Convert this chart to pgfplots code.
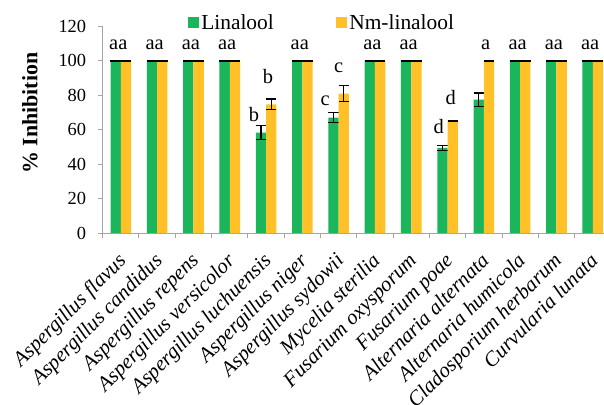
\documentclass[border=0pt]{standalone}
\usepackage{pgfplots}
\pgfplotsset{compat=1.18}
\usepackage{pgfplotstable}
\usepackage{fontspec}
\setmainfont{Liberation Serif}

\definecolor{lingreen}{RGB}{27,181,92}
\definecolor{nmgold}{RGB}{255,193,39}
\definecolor{axgray}{RGB}{165,165,165}

% mean inhibition (%) and error for each fungus
\pgfplotstableread{
x lin linerr nm nmerr
1  100  0    100  0
2  100  0    100  0
3  100  0    100  0
4  100  0    100  0
5  58.3 4.0  74.7 3.1
6  100  0    100  0
7  67.1 2.9  81.0 4.6
8  100  0    100  0
9  100  0    100  0
10 49.5 1.5  65.0 0
11 77.5 3.8  100  0
12 100  0    100  0
13 100  0    100  0
14 100  0    100  0
}\inhib

\pgfplotsset{sqleg/.style={legend image code/.code={\fill[##1] (0bp,-5.5bp) rectangle (10.5bp,5.5bp);}}}

\begin{document}
\begin{tikzpicture}
\begin{axis}[
  scale only axis, width=508.2bp, height=206.5bp,
  xmin=0.5, xmax=14.5, ymin=0, ymax=120,
  ybar=0pt, bar width=10.3bp,
  axis lines*=left,
  axis line style={axgray, line width=1bp, -},
  tick align=outside, major tick length=5bp,
  tick style={axgray, line width=1bp},
  ytick={0,20,...,120},
  yticklabel style={font=\fontsize{18.5}{20}\selectfont, xshift=-8bp},
  /pgf/number format/assume math mode=true,
  xtick={0.5,1.5,...,14.5},
  x tick label as interval,
  xticklabels={Aspergillus flavus, Aspergillus candidus, Aspergillus repens,
    Aspergillus versicolor, Aspergillus luchuensis, Aspergillus niger,
    Aspergillus sydowii, Mycelia sterilia, Fusarium oxysporum, Fusarium poae,
    Alternaria alternata, Alternaria humicola, Cladosporium herbarum,
    Curvularia lunata},
  xticklabel style={font=\fontsize{21}{23}\selectfont\itshape, xshift=7bp, yshift=-23bp, rotate=45, anchor=base east, inner sep=1bp},
  ylabel={\% Inhibition},
  ylabel style={font=\fontsize{22}{24}\selectfont\bfseries, at={(rel axis cs:-0.143,0.58)}, anchor=center},
  legend columns=2,
  legend style={draw=none, fill=none, inner sep=0pt, at={(0.168,1.019)}, anchor=west,
    font=\fontsize{21.5}{23}\selectfont, nodes={inner sep=2.5bp},
    /tikz/every even column/.append style={column sep=60bp}},
  error bars/y dir=both, error bars/y explicit,
  error bars/error bar style={black, line width=1.3bp},
  error bars/error mark options={black, line width=1.3bp, mark size=5.2bp, rotate=90},
]
\addplot[fill=lingreen, draw=none, sqleg] table[x=x, y=lin, y error=linerr] {\inhib};
\addplot[fill=nmgold, draw=none, sqleg] table[x=x, y=nm, y error=nmerr] {\inhib};
\legend{Linalool, Nm-linalool}

% significance letters
\pgfplotsinvokeforeach{1,2,3,4,6,8,9,12,13,14}{
  \node[font=\fontsize{20.5}{22}\selectfont] at (axis cs:#1-0.07,109.5) {aa};
}
\begin{scope}[every node/.style={font=\fontsize{20.5}{22}\selectfont}]
\node at (axis cs:4.67,69) {b};
\node at (axis cs:5.05,91) {b};
\node at (axis cs:6.63,77) {c};
\node at (axis cs:7.0,96) {c};
\node at (axis cs:9.76,62) {d};
\node at (axis cs:10.09,78.5) {d};
\node at (axis cs:11.05,109.5) {a};
\end{scope}
\end{axis}
\pgfresetboundingbox
\path[use as bounding box] (-102.7bp,-172bp) rectangle (501.3bp,233bp);
\end{tikzpicture}
\end{document}
